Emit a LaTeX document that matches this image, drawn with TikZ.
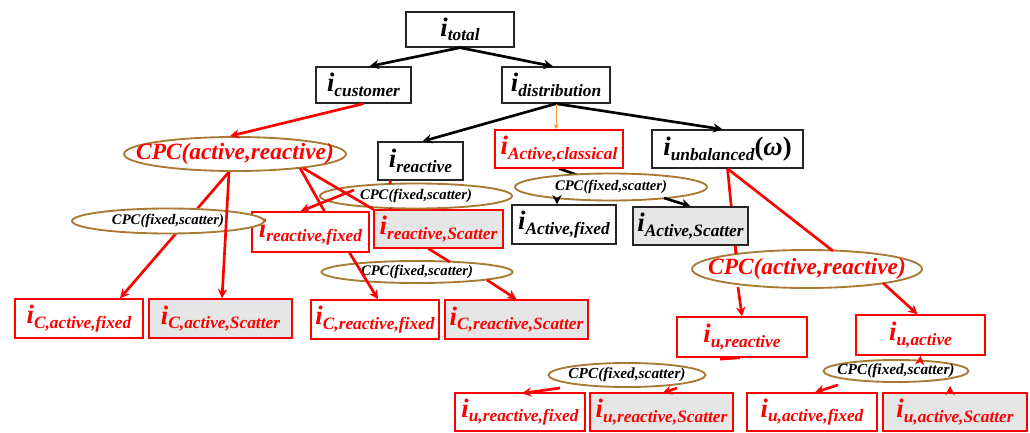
\documentclass[tikz,border=0pt]{standalone}
\usepackage{fontspec}
\setmainfont{Liberation Serif}
\usetikzlibrary{shapes.geometric,arrows.meta,calc}
\definecolor{ered}{RGB}{255,0,0}
\definecolor{ebrown}{RGB}{168,122,52}
\definecolor{egray}{RGB}{230,230,230}
\definecolor{eorange}{RGB}{240,160,60}
\pgfdeclarelayer{bg}
\pgfsetlayers{bg,main}
\newcommand\ilab[1]{{\bfseries\itshape{\fontsize{20}{20}\selectfont i}\raisebox{-3.5pt}{\fontsize{13}{13}\selectfont #1}}}
\newcommand\cpcbig{{\bfseries\itshape\fontsize{17.5}{17.5}\selectfont CPC(active,reactive)}}
\newcommand\cpcsm{{\bfseries\itshape\fontsize{11}{11}\selectfont CPC(fixed,scatter)}}
\newcommand\cpcsmb{{\bfseries\itshape\fontsize{11.5}{11.5}\selectfont CPC(fixed,scatter)}}
\tikzset{
  sz/.style 2 args={minimum width={#1*0.75pt}, minimum height={#2*0.75pt}},
  bx/.style={rectangle, inner sep=0pt, line width=1pt, fill=white},
  blkbox/.style={bx, draw=black!85, text=black},
  redbox/.style={bx, draw=ered, text=ered},
  gr/.style={fill=egray},
  ell/.style={ellipse, inner sep=0pt, draw=ebrown, line width=1.4pt, fill=white},
  blk/.style={draw=black, line width=2pt, -{Stealth[length=7pt,width=7pt]}},
  blkl/.style={draw=black, line width=2pt},
  rd/.style={draw=ered, line width=2pt, -{Stealth[length=7pt,width=7pt]}},
  rdl/.style={draw=ered, line width=2pt},
  org/.style={draw=eorange, line width=0.7pt, -{Stealth[length=4pt,width=4pt]}}
}
\begin{document}
\begin{tikzpicture}[x=0.75pt,y=-0.75pt]
\useasboundingbox (0,0) rectangle (1030,432);
% boxes
\node[blkbox, sz={108}{35}] (tot) at (460,29.5) {\ilab{total}};
\node[blkbox, sz={95}{36}] (cust) at (363.5,85) {\ilab{customer}};
\node[blkbox, sz={108}{36}] (dist) at (556,85) {\ilab{distribution}};
\node[blkbox, sz={85}{38}] (react) at (420.5,161) {\ilab{reactive}};
\node[redbox, sz={128}{38}, line width=0.8pt] (acl) at (559,149) {\ilab{Active,classical}};
\node[blkbox, sz={151}{38}] (unb) at (727.5,149) {\ilab{unbalanced}{\bfseries\fontsize{20}{20}\selectfont(\textit{ω})}};
\node[blkbox, sz={104}{39}] (aft) at (564,224.5) {\ilab{Active,fixed}};
\node[blkbox, gr, sz={115}{38}] (asc) at (690.5,226) {\ilab{Active,Scatter}};
\node[redbox, sz={117}{40}] (rf) at (310.5,232) {\ilab{reactive,fixed}};
\node[redbox, gr, sz={129}{38}] (rs) at (438.5,229) {\ilab{reactive,Scatter}};
\node[redbox, sz={128}{39}] (caf) at (79,318.5) {\ilab{C,active,fixed}};
\node[redbox, gr, sz={143}{39}] (cas) at (220.5,318.5) {\ilab{C,active,Scatter}};
\node[redbox, sz={128}{39}] (crf) at (375,319.5) {\ilab{C,reactive,fixed}};
\node[redbox, gr, sz={143}{39}] (crs) at (516.5,319.5) {\ilab{C,reactive,Scatter}};
\node[redbox, sz={130}{40}] (ur) at (742,337) {\ilab{u,reactive}};
\node[redbox, sz={129}{40}] (ua) at (920.5,335) {\ilab{u,active}};
\node[redbox, sz={130}{38}] (urf) at (520,412) {\ilab{u,reactive,fixed}};
\node[redbox, gr, sz={143}{38}] (urs) at (661.5,412) {\ilab{u,reactive,Scatter}};
\node[redbox, sz={130}{38}] (uaf) at (812,412) {\ilab{u,active,fixed}};
\node[redbox, gr, sz={144}{38}] (uas) at (955,412) {\ilab{u,active,Scatter}};
% ellipses
\node[ell, sz={222}{34}, text=ered] (cpcL) at (235,154) {\makebox[0pt]{\cpcbig}};
\node[ell, sz={192}{25}] (fsL) at (168,221) {\makebox[0pt]{\cpcsm}};
\node[ell, sz={192}{25}] (fsR) at (416,196) {\makebox[0pt]{\cpcsm}};
\node[ell, sz={192}{27}] (fsA) at (611,187) {\makebox[0pt]{\cpcsm}};
\node[ell, sz={191}{22}] (fsC) at (417,272) {\makebox[0pt]{\cpcsm}};
\node[ell, sz={230}{38}, text=ered] (cpcR) at (807,269) {\makebox[0pt]{\cpcbig}};
\node[ell, sz={157}{24}] (fsU1) at (627,375) {\makebox[0pt]{\cpcsmb}};
\node[ell, sz={145}{22}] (fsU2) at (896,371) {\makebox[0pt]{\cpcsmb}};
% background connectors
\begin{pgfonlayer}{bg}
\draw[blkl] (acl.south) -- (fsA.center);
\draw[rd] ($(cpcL.south)+(-6,0)$) -- ($(caf.north)+(41,0)$);
\draw[rdl] (unb.south) -- ($(cpcR.center)+(-71,-15)$);
\end{pgfonlayer}
% black connectors
\draw[blk] (tot.south) -- ($(cust.north)+(6,0)$);
\draw[blk] (tot.south) -- ($(dist.north)+(-3,0)$);
\draw[blk] (dist.south) -- ($(react.north)+(2,0)$);
\draw[blk] (dist.south) -- ($(unb.north)+(-5,0)$);
\draw[org] (dist.south) -- ($(acl.north)+(-3,0)$);
\draw[blk] ($(fsA.center)+(-54,11)$) -- ($(aft.north)+(-7,0)$);
\draw[blk] ($(fsA.center)+(53,11)$) -- (asc.north);
% red connectors
\draw[rd] (cust.south) -- ($(cpcL.north)+(-5,0)$);
\draw[rd] ($(cpcL.south)+(-6,0)$) -- ($(cas.north)+(1.5,0)$);
\draw[rdl] ($(cpcL.center)+(65,14)$) -- ($(rf.north)+(14,0)$);
\draw[rdl] ($(cpcL.center)+(68,14)$) -- (rs.north west);
\draw[rdl] ($(react.south)+(-30,0)$) -- ($(fsR.center)+(-26,-12)$);
\draw[rd] ($(fsR.center)+(-62,-6)$) -- ($(rf.north)+(-10,0)$);
\draw[rdl] ($(fsR.center)+(-26,12)$) -- ($(rs.north)+(-48,0)$);
\draw[rd] ($(rf.south)+(39,0)$) -- ($(crf.north)+(3,0)$);
\draw[rdl] ($(rs.south)+(-10,0)$) -- ($(fsC.center)+(33,-10)$);
\draw[rd] ($(fsC.center)+(70,8)$) -- (crs.north);
\draw[rdl] (unb.south) -- ($(cpcR.center)+(26,-18)$);
\draw[rdl] ($(asc.south)+(45,0)$) -- ($(cpcR.center)+(-71,-15)$);
\draw[rd] ($(cpcR.center)+(-69,18)$) -- (ur.north);
\draw[rd] ($(cpcR.center)+(76,14)$) -- ($(ua.north)+(-3,0)$);
\draw[rdl] ($(ur.south)+(-22,1.5)$) -- ($(ur.south)+(-2,0)$);
\draw[rd] ($(fsU1.center)+(-67,13)$) -- ($(urf.north)+(2,1)$);
\draw[rd] ($(fsU1.center)+(50,13)$) -- ($(urs.north)+(1,1)$);
\draw[rd] ($(fsU2.center)+(24,-10)$) -- (ua.south);
\draw[rd] ($(fsU2.center)+(-58,14)$) -- ($(uaf.north)+(3,0)$);
\draw[rd] ($(uas.north)+(-5,0)$) -- ($(fsU2.center)+(54,15)$);
\end{tikzpicture}
\end{document}
